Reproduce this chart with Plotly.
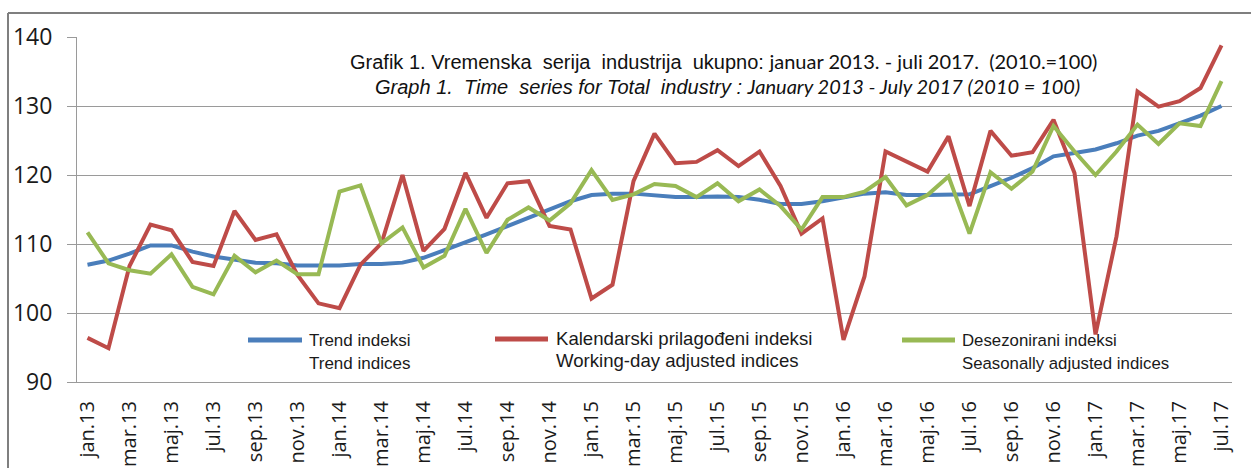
import plotly.graph_objects as go

months = [
    "jan.13", "feb.13", "mar.13", "apr.13", "maj.13", "jun.13", "jul.13", "avg.13", "sep.13", "okt.13", "nov.13", "dec.13",
    "jan.14", "feb.14", "mar.14", "apr.14", "maj.14", "jun.14", "jul.14", "avg.14", "sep.14", "okt.14", "nov.14", "dec.14",
    "jan.15", "feb.15", "mar.15", "apr.15", "maj.15", "jun.15", "jul.15", "avg.15", "sep.15", "okt.15", "nov.15", "dec.15",
    "jan.16", "feb.16", "mar.16", "apr.16", "maj.16", "jun.16", "jul.16", "avg.16", "sep.16", "okt.16", "nov.16", "dec.16",
    "jan.17", "feb.17", "mar.17", "apr.17", "maj.17", "jun.17", "jul.17",
]

trend = [
    107.0, 107.6, 108.6, 109.8, 109.8, 108.9, 108.2, 107.7, 107.3, 107.2, 106.9, 106.9,
    106.9, 107.1, 107.1, 107.3, 108.0, 109.1, 110.2, 111.4, 112.6, 113.8, 115.0, 116.2,
    117.1, 117.3, 117.3, 117.0, 116.8, 116.8, 116.9, 116.8, 116.4, 115.8, 115.8, 116.2,
    116.7, 117.3, 117.5, 117.1, 117.1, 117.2, 117.2, 118.4, 119.6, 121.0, 122.7, 123.2,
    123.7, 124.6, 125.7, 126.4, 127.5, 128.6, 130.0,
]

working_day = [
    96.4, 94.9, 106.8, 112.8, 112.0, 107.4, 106.8, 114.8, 110.6, 111.4, 105.5, 101.4,
    100.7, 107.0, 110.1, 120.0, 109.0, 112.2, 120.3, 113.8, 118.8, 119.1, 112.6, 112.1,
    102.1, 104.1, 119.1, 126.0, 121.7, 121.9, 123.6, 121.3, 123.4, 118.4, 111.5, 113.7,
    96.1, 105.3, 123.4, 122.0, 120.5, 125.6, 115.5, 126.4, 122.8, 123.3, 128.0, 120.3,
    96.9, 111.1, 132.1, 129.9, 130.7, 132.6, 138.8,
]

seasonal = [
    111.7, 107.2, 106.2, 105.7, 108.5, 103.8, 102.7, 108.3, 105.9, 107.6, 105.6, 105.6,
    117.6, 118.5, 110.1, 112.4, 106.6, 108.3, 115.1, 108.7, 113.5, 115.3, 113.4, 115.9,
    120.7, 116.4, 117.2, 118.7, 118.4, 116.8, 118.8, 116.2, 117.9, 115.5, 112.1, 116.8,
    116.8, 117.6, 119.7, 115.6, 117.1, 119.8, 111.5, 120.4, 118.0, 120.5, 127.1, 123.4,
    120.0, 123.4, 127.3, 124.5, 127.5, 127.1, 133.6,
]

legend_labels = [
    ("Trend indeksi", "Trend indices"),
    ("Kalendarski prilagođeni indeksi", "Working-day adjusted indices"),
    ("Desezonirani indeksi", "Seasonally adjusted indices"),
]

title_sr_a = "Grafik 1. Vremenska  serija  industrija  ukupno:"
title_sr_b = "januar 2013. - juli 2017.  (2010.=100)"
title_en_a = "Graph 1.  Time  series for Total  industry :"
title_en_b = "January 2013 - July 2017 (2010 = 100)"

BLUE = "#4A7EBB"
RED = "#BE4B48"
GREEN = "#98B954"
GRID = "#9a9a9a"
TXT = "#1a1a1a"

W, H = 1251, 468
L, R, T, B = 77, 1232, 37, 382


def px(x):
    return (x - L) / (R - L)


def py(y):
    return (B - y) / (B - T)


fig = go.Figure()
for vals, col in [(trend, BLUE), (working_day, RED), (seasonal, GREEN)]:
    fig.add_trace(go.Scatter(x=months, y=vals, mode="lines",
                             line=dict(color=col, width=4), showlegend=False,
                             hoverinfo="skip"))

n = len(months)
fig.update_layout(
    width=W, height=H,
    margin=dict(l=L, r=W - R, t=T, b=H - B, pad=0, autoexpand=False),
    paper_bgcolor="white", plot_bgcolor="white",
    xaxis=dict(type="category", range=[-0.5, n - 0.5], automargin=False,
               tickvals=months[::2], ticktext=months[::2],
               tickangle=-90, ticks="outside", ticklen=8,
               tickcolor="rgba(0,0,0,0)", ticklabelstandoff=2,
               tickfont=dict(family="Open Sans", size=20, color=TXT),
               showgrid=False, showline=True, linecolor=GRID, linewidth=1,
               zeroline=False, fixedrange=True),
    xaxis2=dict(overlaying="x", anchor="y", side="bottom", range=[-0.5, n - 0.5],
                automargin=False,
                tickmode="array", tickvals=[i - 0.5 for i in range(0, n, 2)],
                showticklabels=False, ticks="outside", ticklen=8,
                tickcolor=GRID, tickwidth=1,
                showgrid=False, showline=False, zeroline=False),
    yaxis=dict(range=[90, 140], dtick=10, tick0=90, automargin=False,
               ticks="outside", ticklen=9, tickcolor=GRID,
               ticklabelstandoff=10,
               tickfont=dict(family="Open Sans", size=23, color=TXT),
               showgrid=True, gridcolor=GRID, gridwidth=1,
               showline=True, linecolor=GRID, linewidth=1, zeroline=False),
)

# outer frame (top and left edges)
fig.add_shape(type="line", xref="paper", yref="paper",
              x0=px(8), x1=px(W), y0=py(13), y1=py(13),
              line=dict(color="#7f7f7f", width=2))
fig.add_shape(type="line", xref="paper", yref="paper",
              x0=px(8), x1=px(8), y0=py(13), y1=py(H),
              line=dict(color="#7f7f7f", width=2))

# title
fig.add_annotation(xref="paper", yref="paper", x=px(723), y=py(61),
                   xanchor="center", yanchor="middle", showarrow=False,
                   text=(f'<span style="font-family:Liberation Sans">{title_sr_a}</span> '
                         f'<span style="font-family:Lato">{title_sr_b}</span>'),
                   font=dict(family="Liberation Sans", size=20, color="#111"))
fig.add_annotation(xref="paper", yref="paper", x=px(727), y=py(86),
                   xanchor="center", yanchor="middle", showarrow=False,
                   text=(f'<i><span style="font-family:Liberation Sans">{title_en_a}</span> '
                         f'<span style="font-family:Lato">{title_en_b}</span></i>'),
                   font=dict(family="Liberation Sans", size=20, color="#111"))

# legend
leg = [
    (BLUE, 248, 302, 340, 307, 340, 363, 17),
    (RED, 495, 548, 339, 554, 338, 360, 18.6),
    (GREEN, 902, 955, 340, 960, 340, 363, 16.8),
]
for (col, x0, x1, ly, tx, t1, t2, fs), (l1, l2) in zip(leg, legend_labels):
    fig.add_shape(type="line", xref="paper", yref="paper",
                  x0=px(x0), x1=px(x1), y0=py(ly), y1=py(ly),
                  line=dict(color=col, width=5))
    for text, ty in [(l1, t1), (l2, t2)]:
        fig.add_annotation(xref="paper", yref="paper", x=px(tx), y=py(ty),
                           xanchor="left", yanchor="middle", showarrow=False,
                           text=text,
                           font=dict(family="Liberation Sans", size=fs, color=TXT))

fig.write_html("out.html",
               config={"displayModeBar": False},
               post_script="document.body.style.margin='0px';document.body.style.overflow='hidden';")
